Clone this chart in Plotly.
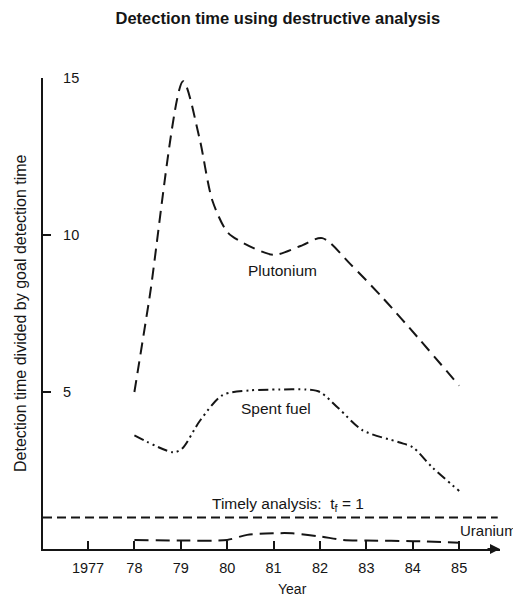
import plotly.graph_objects as go

# ---- data ----
years_ticks = [1977, 1978, 1979, 1980, 1981, 1982, 1983, 1984, 1985]
year_tick_labels = ["1977", "78", "79", "80", "81", "82", "83", "84", "85"]
y_ticks = [5, 10, 15]

plutonium_x = [1978.0, 1978.32, 1979.05, 1979.4, 1979.68, 1980.0, 1980.28, 1981.0, 1981.58, 1982.05, 1982.65, 1983.37, 1984.1, 1985.0]
plutonium_y = [5.0, 7.95, 14.9, 13.1, 11.1, 10.1, 9.8, 9.37, 9.65, 9.9, 9.08, 7.97, 6.75, 5.2]

spent_x = [1978.0, 1978.84, 1979.03, 1979.42, 1979.9, 1980.48, 1981.13, 1981.7, 1982.0, 1982.4, 1982.92, 1983.7, 1984.0, 1984.42, 1985.0]
spent_y = [3.62, 3.08, 3.2, 4.1, 4.9, 5.05, 5.08, 5.08, 5.0, 4.48, 3.78, 3.4, 3.24, 2.6, 1.85]

uranium_x = [1978.0, 1979.0, 1980.0, 1980.43, 1981.0, 1981.4, 1982.0, 1982.5, 1983.0, 1984.0, 1985.0]
uranium_y = [0.29, 0.27, 0.29, 0.45, 0.5, 0.5, 0.4, 0.29, 0.27, 0.25, 0.2]

timely_value = 1

FONT = "Liberation Sans, Arial, sans-serif"
INK = "#151515"

fig = go.Figure()

fig.add_trace(go.Scatter(x=plutonium_x, y=plutonium_y, mode="lines",
                         line=dict(color=INK, width=2, dash="12px,7px", shape="spline", smoothing=0.8),
                         cliponaxis=False, hoverinfo="skip"))
fig.add_trace(go.Scatter(x=spent_x, y=spent_y, mode="lines",
                         line=dict(color=INK, width=2, dash="10px,4px,2px,4px,2px,4px", shape="spline", smoothing=0.8),
                         cliponaxis=False, hoverinfo="skip"))
fig.add_trace(go.Scatter(x=uranium_x, y=uranium_y, mode="lines",
                         line=dict(color=INK, width=2, dash="14px,7px", shape="spline", smoothing=0.8),
                         cliponaxis=False, hoverinfo="skip"))

fig.add_shape(type="line", xref="paper", yref="y", x0=0, x1=0.995, y0=timely_value, y1=timely_value,
              line=dict(color=INK, width=2, dash="9px,5px"))

# arrow on x axis
fig.add_annotation(xref="paper", yref="paper", x=1.0, y=0, ax=-14, ay=0, text="",
                   showarrow=True, arrowhead=2, arrowsize=1, arrowwidth=2, arrowcolor=INK)

# series labels
fig.add_annotation(x=1981.2, y=8.86, text="Plutonium", showarrow=False, font=dict(size=15.5, color=INK, family=FONT))
fig.add_annotation(x=1981.05, y=4.48, text="Spent fuel", showarrow=False, font=dict(size=15.5, color=INK, family=FONT))
fig.add_annotation(x=1981.3, y=1.42, text="Timely analysis:  t<sub>f</sub> = 1", showarrow=False,
                   font=dict(size=15.5, color=INK, family=FONT))
fig.add_annotation(x=1984.98, y=0.6, text="Uranium", showarrow=False, xanchor="left",
                   font=dict(size=15, color=INK, family=FONT))
fig.add_annotation(x=1981.4, y=0, yref="paper", text="Year", showarrow=False, yanchor="middle", yshift=-40,
                   font=dict(size=14, color=INK, family=FONT))
# y axis title
fig.add_annotation(xref="paper", yref="paper", x=0, y=0.5, xshift=-33, textangle=-90, showarrow=False,
                   text="Detection time divided by goal detection time",
                   font=dict(size=16, color=INK, family=FONT))

fig.update_layout(
    width=513, height=588,
    margin=dict(l=35, r=21, t=70, b=47),
    paper_bgcolor="white", plot_bgcolor="white",
    showlegend=False,
    title=dict(text="<b>Detection time using destructive analysis</b>", x=0.526, xanchor="center",
               y=0.983, yanchor="middle", font=dict(size=16.5, color=INK, family=FONT)),
    font=dict(family=FONT, color=INK),
)

fig.update_xaxes(range=[1976.03, 1985.88], showgrid=False, zeroline=False, automargin=False,
                 showline=True, linecolor=INK, linewidth=2,
                 tickmode="array", tickvals=years_ticks, ticktext=year_tick_labels,
                 ticks="inside", ticklen=8, tickwidth=2, tickcolor=INK,
                 tickfont=dict(size=14.5, color=INK, family=FONT), ticklabelstandoff=5)

fig.update_yaxes(range=[0, 15], showgrid=False, zeroline=False, automargin=False,
                 showline=True, linecolor=INK, linewidth=2,
                 tickmode="array", tickvals=y_ticks,
                 ticks="inside", ticklen=8, tickwidth=2, tickcolor=INK,
                 ticklabelposition="inside", ticklabelstandoff=12, ticklabeloverflow="allow",
                 tickfont=dict(size=14.5, color=INK, family=FONT))

fig.write_html("out.html")
